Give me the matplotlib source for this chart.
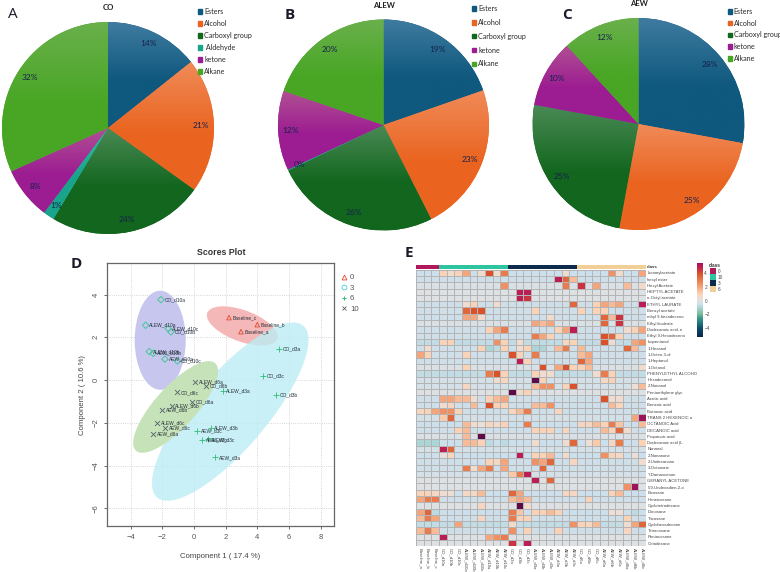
import numpy as np
import matplotlib
matplotlib.use("Agg")
import matplotlib.pyplot as plt
from matplotlib.colors import LinearSegmentedColormap, ListedColormap, Normalize
from matplotlib.patches import Ellipse, Patch

W, H = 780, 572
plt.rcParams['font.family'] = ['Liberation Sans', 'DejaVu Sans']

# pies
PIE_CO_NAMES = ['Esters', 'Alcohol', 'Carboxyl group', ' Aldehyde', 'ketone', 'Alkane']
PIE_CO_VALUES = [14.3, 20.6, 23.7, 1.7, 8.0, 31.7]
PIE_CO_LABELS = ['14%', '21%', '24%', '1%', '8%', '32%']
PIE_CO_KEYS = ['esters', 'alcohol', 'carboxyl', 'aldehyde', 'ketone', 'alkane']

PIE_ALEW_NAMES = ['Esters', 'Alcohol', 'Carboxyl group', 'ketone', 'Alkane']
PIE_ALEW_VALUES = [19.7, 22.9, 25.4, 0.15, 12.2, 19.8]
PIE_ALEW_LABELS = ['19%', '23%', '26%', '0%', '12%', '20%']
PIE_ALEW_KEYS = PIE_CO_KEYS

PIE_AEW_NAMES = ['Esters', 'Alcohol', 'Carboxyl group', 'ketone', 'Alkane']
PIE_AEW_VALUES = [27.9, 25.0, 25.0, 10.3, 11.8]
PIE_AEW_LABELS = ['28%', '25%', '25%', '10%', '12%']
PIE_AEW_KEYS = ['esters', 'alcohol', 'carboxyl', 'ketone', 'alkane']

# scores plot
BASE_X = [2.21, 4.0, 2.97]
BASE_Y = [2.92, 2.59, 2.26]
BASE_NAMES = ['Baseline_c', 'Baseline_b', 'Baseline_a']
D10_X = [-2.08, -3.05, -1.62, -1.45, -2.82, -2.57, -1.83, -1.05]
D10_Y = [3.76, 2.56, 2.40, 2.25, 1.33, 1.25, 0.98, 0.89]
D10_NAMES = ['CO_d10a', 'ALEW_d10a', 'ALEW_d10c', 'CO_d10b', 'ALEW_d10b', 'AEW_d10b', 'AEW_d10a', 'CO_d10c']
D3_X = [5.35, 4.38, 5.16, 1.81, 1.05, 0.21, 0.86, 0.5, 1.35]
D3_Y = [1.45, 0.2, -0.7, -0.51, -2.26, -2.39, -2.78, -2.82, -3.62]
D3_NAMES = ['CO_d3a', 'CO_d3c', 'CO_d3b', 'ALEW_d3a', 'ALEW_d3b', 'AEW_d3c', 'ALEW_d3c', 'AEW_d3b', 'AEW_d3a']
D6_X = [0.06, 0.74, -1.05, -0.1, -1.41, -2.0, -2.32, -1.81, -2.59]
D6_Y = [-0.09, -0.27, -0.58, -1.01, -1.2, -1.39, -2.01, -2.23, -2.53]
D6_NAMES = ['ALEW_d6a', 'CO_d6b', 'CO_d6c', 'CO_d6a', 'ALEW_d6b', 'AEW_d6b', 'ALEW_d6c', 'AEW_d6c', 'AEW_d6a']

# heatmap
ROW_NAMES = ['Isoamylacetate', 'hexyl ester', 'Hexyl Acetate', 'HEPTYL ACETATE', 'n-Octyl acetate',
             'ETHYL LAURATE', 'Benzyl acetate', 'ethyl 9-hexadeceno', 'Ethyl linoleate', 'Dodecanoic acid, e',
             'Ethyl 9-Hexadeceno', 'Isopentanol', '1-Hexanol', '1-Octen-3-ol', '1-Heptanol', '1-Octanol',
             'PHENYLETHYL ALCOHO', 'Hexadecanol', '2-Nonanol', 'Pentaethylene glyc', 'Acetic acid',
             'Benzoic acid', 'Butanoic acid', 'TRANS 2 HEXENOIC a', 'OCTANOIC Acid', 'DECANOIC acid',
             'Propanoic acid', 'Dodecanoic acid (L', 'Nonanal', '2-Nonanone', '2-Undecanone', '3-Octanone',
             '?-Damascenon', 'GERANYL ACETONE', '5,9-Undecadien-2-o', 'Eicosane', 'Heneicosane',
             'Cyclotetradecane', 'Docosane', 'Tricosane', 'Cyclohexadecane', 'Tetracosane', 'Pentacosane',
             'Octadecane']
COL_NAMES = ['Baseline_a', 'Baseline_b', 'Baseline_c',
             'CO_d10a', 'CO_d10b', 'CO_d10c', 'ALEW_d10a', 'ALEW_d10b', 'ALEW_d10c',
             'AEW_d10a', 'AEW_d10b', 'AEW_d10c',
             'CO_d3a', 'CO_d3b', 'CO_d3c', 'ALEW_d3a', 'ALEW_d3b', 'ALEW_d3c',
             'AEW_d3a', 'AEW_d3b', 'AEW_d3c',
             'CO_d6a', 'CO_d6b', 'CO_d6c', 'AEW_d6a', 'AEW_d6b', 'AEW_d6c',
             'ALEW_d6a', 'ALEW_d6b', 'ALEW_d6c']
COL_CLASS = [0] * 3 + [1] * 9 + [2] * 9 + [3] * 9
CLASS_NAMES = ['0', '10', '3', '6']

# background level of each row, then the cells that stand out
ROW_BASE = [-.6, -.5, -.3, -.2, -.2, -.5, -.5, -.5, -.3, -.5, -.5, -.7, -.5, -.5, -.5, -.3, -.7, -.4, -.4, -.2, -.5, -.5,
            -.5, -.4, -.6, -.5, -.3, -.6, -.4, -.6, -.5, -.5, -.4, -.2, -.2, -.6, -.5, -.2, -.6, -.5, -.7, -.5, -.2, -.2]
HOT_CELLS = {
    0: {3: 1, 4: .5, 5: 1, 6: 2, 8: .5, 9: 4, 10: .5, 11: 3, 19: .5, 25: 2.5, 26: .5, 29: 2},
    1: {18: 5, 19: 3.5, 20: 1.5},
    2: {11: 2.5, 19: 3, 21: 4.5, 23: 2, 27: 1.5, 29: .5},
    3: {13: 5, 14: 5},
    4: {13: 5, 14: 4.5},
    5: {6: .5, 7: 1, 10: .5, 20: 3.5, 23: 1, 24: 2, 25: 1.5, 26: 2, 29: 5},
    6: {6: 3.5, 7: 4, 8: 4, 15: 1, 21: 1, 23: 1, 24: 1},
    7: {6: 2, 7: 2, 8: .5, 17: .5, 24: 3.5, 25: 1.5, 26: 4.5},
    8: {15: 2, 16: 1.5, 17: 2, 24: 3.5, 26: 4.5},
    9: {9: 1, 10: 2, 11: 3, 18: 1, 19: 2, 20: 5, 27: .5, 28: 1, 29: 2},
    10: {15: 3, 16: 2, 17: 1, 24: 4, 25: 3.5, 26: 1},
    11: {3: 1, 4: 1, 10: 2.5, 11: 1, 13: .5, 19: .7, 20: 1, 24: 4, 25: .5, 28: 2, 29: 2.5},
    12: {1: .5, 8: 1, 9: -1, 10: -.8, 11: 1, 13: .5, 14: 1, 15: -1, 16: -1, 18: 1.5, 19: 3, 21: 1.5, 27: 3.5, 28: 1.5},
    13: {0: 2, 1: 1, 6: 1, 12: 4, 13: 1, 15: 3, 21: 1.5, 22: 2},
    14: {13: 5, 14: 1, 21: 3.5, 22: 2},
    15: {6: 1, 16: 4, 18: 2, 19: 4, 20: 1, 21: 1, 22: 1.5, 29: .5},
    16: {9: 3, 10: 4, 11: 1, 15: 1, 16: .5, 17: .5, 23: .5, 24: 3, 25: 1},
    17: {10: .5, 11: .8, 15: 6, 16: 1, 24: .7, 25: 1},
    18: {6: .8, 15: 1.5, 16: 2.5, 17: 2.5, 19: 1, 20: 4, 28: .3, 29: 1.5},
    19: {12: 6, 13: .5, 14: 1},
    20: {3: 2, 4: 2, 5: 1.5, 6: 1.5, 7: .5, 9: 1, 10: 1.5, 11: 2, 24: 4, 25: .5, 26: .5},
    21: {3: .5, 4: .8, 7: 1.5, 9: 4, 10: 1, 11: 1, 15: 1.5, 16: 1.5, 17: 2.5, 25: 1.5, 26: .8},
    22: {0: .8, 1: 1, 2: 2, 3: 2.5, 4: 2.5, 5: 1, 12: .8, 13: 1.5, 14: 3, 18: .8},
    23: {3: 1.2, 4: 3.5, 28: 2, 29: 5.5},
    24: {6: 1.5, 7: .5, 8: .3, 9: .8, 10: .5, 11: 1, 14: 3, 21: .8, 22: .8, 23: 1.5, 24: 1, 25: 3, 26: 1.3, 29: 1.5},
    25: {5: 1, 6: 1.5, 15: 1, 16: 1, 17: 1, 19: .8, 24: 1.5, 25: 1, 26: 3.5, 27: .5},
    26: {6: 1.5, 8: 6},
    27: {0: -1, 1: -1, 2: -1, 6: 1.5, 7: 1.5, 8: 1, 9: -.8, 11: -.8, 15: .5, 19: .5, 20: 3.5, 22: .3, 23: 1.2, 25: .7, 26: 3, 29: 1},
    28: {3: 5, 4: 3.5},
    29: {3: .2, 4: .8, 13: 5, 15: 1, 16: 1, 17: 1.5, 19: .5, 24: 2.5, 25: 1, 26: .7, 28: .2},
    30: {9: 1, 10: .7, 11: 2, 15: 2.5, 16: 2, 17: 3.5, 20: .8, 29: .5},
    31: {6: 3, 7: .5, 8: 2, 9: 3, 11: 2, 16: 3.5},
    32: {12: 1.2, 13: 3, 14: 5},
    33: {15: 5, 17: 3.5},
    34: {27: 2.5, 28: 5.5},
    35: {0: 1, 1: 1, 2: .7, 3: .5, 4: .4, 6: .7, 7: .7, 8: 1.5, 12: 3.5, 13: 2, 19: .8, 20: .8, 25: 1, 26: 1.5},
    36: {0: 2, 1: 3, 2: 3, 12: 1.5, 13: 2, 14: 1.5, 22: 1},
    37: {8: .8, 13: 6, 14: .5},
    38: {0: 2, 1: 3.5, 2: -.8, 12: 3, 13: 1.3, 15: 1, 16: 1, 17: 1.5, 18: 1, 25: .3, 26: .3, 28: -.8},
    39: {0: 1.5, 1: 3, 2: 2, 8: .8, 12: 3, 13: 1, 14: 1, 27: 1},
    40: {5: 2, 12: .6, 20: 2.5, 21: 1, 22: .8, 23: 1.5, 27: .5, 28: 2, 29: 3.5},
    41: {0: 1.5, 1: 3, 2: 1.5, 12: 2.5, 14: 1, 18: 1, 27: .8},
    42: {3: 5, 9: 2, 10: 2.5, 11: 3},
    43: {12: 4.5, 14: 5},
}

PIE_TOP = {'esters': '#3f7ba0', 'alcohol': '#f08a58', 'carboxyl': '#4a8a55', 'aldehyde': '#2fbaa2',
           'ketone': '#b04f92', 'alkane': '#6ab04c'}
PIE_BOTTOM = {'esters': '#0f587e', 'alcohol': '#ea6420', 'carboxyl': '#12661e', 'aldehyde': '#19a48c',
              'ketone': '#9c1c92', 'alkane': '#48a624'}


def px_axes(left, top, right, bottom):
    return fig.add_axes([left / W, 1 - bottom / H, (right - left) / W, (bottom - top) / H])


def draw_pie(cx, cy, r, values, labels, keys, names, title, title_y, leg_x, leg_y, leg_gap):
    ax = px_axes(cx - r, cy - r, cx + r, cy + r)
    wedges, _ = ax.pie(values, startangle=90, counterclock=False, radius=1)
    for w, key, lab in zip(wedges, keys, labels):
        w.set_facecolor(PIE_BOTTOM[key])
        w.set_edgecolor('none')
        cmap = LinearSegmentedColormap.from_list(key, [PIE_TOP[key], PIE_BOTTOM[key]])
        box = w.get_path().get_extents()
        # the light part of the gradient only reaches part way down a slice
        shade = np.clip(np.linspace(0, 1, 64) * 1.8, 0, 1).reshape(-1, 1)
        img = ax.imshow(shade, cmap=cmap, vmin=0, vmax=1, aspect='auto', origin='upper',
                        extent=[box.x0, box.x1, box.y0, box.y1], zorder=1)
        img.set_clip_path(w)
        mid = np.deg2rad((w.theta1 + w.theta2) / 2)
        ax.text(0.88 * np.cos(mid), 0.88 * np.sin(mid), lab, ha='center', va='center', fontsize=6,
                color='#16224c', family=['Lato', 'DejaVu Sans'], zorder=3)
    ax.set_xlim(-1, 1)
    ax.set_ylim(-1, 1)
    ax.set_aspect('equal')
    ax.axis('off')
    fig.text(cx / W, 1 - title_y / H, title, ha='center', va='center', fontsize=5.6, color='#222222',
             family=['Lato', 'DejaVu Sans'], weight='bold')
    name_keys = [k for k in keys if k != 'aldehyde' or ' Aldehyde' in names]
    handles = [Patch(color=PIE_BOTTOM[k]) for k in name_keys]
    fig.legend(handles, names, loc='upper left', bbox_to_anchor=(leg_x / W, 1 - leg_y / H), frameon=False,
               handlelength=0.6, handleheight=0.6, handletextpad=0.25, borderpad=0, borderaxespad=0,
               labelspacing=leg_gap, prop={'family': ['Lato', 'DejaVu Sans'], 'size': 5.1},
               labelcolor='#2a2a2a')


fig = plt.figure(figsize=(W / 100, H / 100), dpi=100, facecolor='white')

draw_pie(108, 128, 106, PIE_CO_VALUES, PIE_CO_LABELS, PIE_CO_KEYS, PIE_CO_NAMES, 'CO', 8, 198, 8, 0.7)
draw_pie(383.5, 125, 105.5, PIE_ALEW_VALUES, PIE_ALEW_LABELS, PIE_ALEW_KEYS, PIE_ALEW_NAMES, 'ALEW', 5, 472, 5, 0.97)
draw_pie(638.5, 124, 106, PIE_AEW_VALUES, PIE_AEW_LABELS, PIE_AEW_KEYS, PIE_AEW_NAMES, 'AEW', 4, 727.5, 8, 0.67)

for letter, x, y, wt, size in [('A', 13, 15, 'normal', 11), ('B', 290, 15, 'bold', 11), ('C', 567, 15, 'bold', 11),
                               ('D', 76, 264, 'bold', 11), ('E', 409, 253, 'bold', 11)]:
    fig.text(x / W, 1 - y / H, letter, ha='center', va='center', fontsize=size, weight=wt, color='#1a1a2a',
             family=['Open Sans', 'DejaVu Sans'])

# scores plot
ax = px_axes(107.3, 263.3, 334.3, 526)
ax.set_xlim(-5.47, 8.86)
ax.set_ylim(-6.83, 5.46)
ax.add_patch(Ellipse((3.05, 2.53), 4.6, 1.5, angle=-14, fc='#f4b4b4', ec='none', alpha=0.95, zorder=1))
ax.add_patch(Ellipse((2.29, -1.48), 12.3, 4.0, angle=39, fc='#bcedf4', ec='none', alpha=0.8, zorder=2))
ax.add_patch(Ellipse((-2.13, 1.86), 3.22, 4.63, fc='#c6c6ee', ec='none', zorder=2))
ax.add_patch(Ellipse((-1.16, -1.26), 6.5, 2.2, angle=37, fc='#c6e2b8', ec='none', zorder=3))
ax.grid(True, color='#c8c8c8', linestyle=':', linewidth=0.6)
ax.set_axisbelow(True)

GROUPS = [(BASE_X, BASE_Y, BASE_NAMES, '^', '#e2492f'), (D10_X, D10_Y, D10_NAMES, 'D', '#35c78e'),
          (D3_X, D3_Y, D3_NAMES, '+', '#2dbf78'), (D6_X, D6_Y, D6_NAMES, 'x', '#55606a')]
for gx, gy, names, marker, color in GROUPS:
    filled = marker in '^D'
    ax.scatter(gx, gy, s=11 if filled else 13, marker=marker, linewidths=0.6, zorder=5,
               facecolors='none' if filled else color, edgecolors=color if filled else None)
    for px, py, name in zip(gx, gy, names):
        ax.annotate(name, (px, py), xytext=(2.7, 0), textcoords='offset points', fontsize=3.5, va='center',
                    color='#25303a', zorder=6)

ax.set_xticks([-4, -2, 0, 2, 4, 6, 8])
ax.set_yticks([-6, -4, -2, 0, 2, 4])
ax.tick_params(labelsize=5.5, colors='#555555', length=2.5, width=0.6, pad=3)
for t in ax.get_yticklabels():
    t.set_rotation(90)
    t.set_va('center')
for s in ax.spines.values():
    s.set_color('#666666')
    s.set_linewidth(0.9)
fig.text(221 / W, 1 - 252 / H, 'Scores Plot', ha='center', va='center', fontsize=6.3, weight='bold', color='#333333')
fig.text(220.5 / W, 1 - 556 / H, 'Component 1 ( 17.4 %)', ha='center', va='center', fontsize=5.6, color='#444444')
fig.text(83 / W, 1 - 395 / H, 'Component 2 ( 10.6 %)', ha='center', va='center', rotation=90, fontsize=5.6,
         color='#444444')

leg_handles = [plt.Line2D([], [], ls='', marker='^', mfc='none', mec='#e2492f', ms=3.5, mew=0.6),
               plt.Line2D([], [], ls='', marker='o', mfc='none', mec='#45d0d8', ms=3.5, mew=0.6),
               plt.Line2D([], [], ls='', marker='+', color='#2dbf78', ms=3.5, mew=0.7),
               plt.Line2D([], [], ls='', marker='x', color='#55606a', ms=3.2, mew=0.6)]
fig.legend(leg_handles, CLASS_NAMES[:1] + ['3', '6', '10'], loc='upper left', bbox_to_anchor=(340 / W, 1 - 274 / H),
           frameon=False, fontsize=5.6, labelspacing=0.38, handlelength=1, handletextpad=0.3, borderpad=0,
           borderaxespad=0, labelcolor='#555555')

# heatmap
heat = np.tile(np.array(ROW_BASE).reshape(-1, 1), (1, len(COL_NAMES)))
for row, cells in HOT_CELLS.items():
    for col, val in cells.items():
        heat[row, col] = val

VMIN, VMAX = -5.4, 5.55
stops = [(-5.4, '#0a2545'), (-4, '#10506e'), (-2.6, '#3b9a8c'), (-2, '#79bd9a'), (-1, '#acd6d8'), (-.6, '#cbdfec'),
         (-.2, '#dde1e4'), (.3, '#ecdfd6'), (1, '#fad2b6'), (2, '#f5a67c'), (3, '#e97c4e'), (4, '#d9522c'),
         (4.8, '#c4234f'), (5.5, '#a8145e'), (5.55, '#5c0a48')]
stops = [((v - VMIN) / (VMAX - VMIN), c) for v, c in stops]
heat_cmap = LinearSegmentedColormap.from_list('heat', stops)
heat_cmap.set_over('#5c0a48')
norm = Normalize(VMIN, VMAX)

ax = px_axes(416, 269.7, 646, 546.3)
mesh = ax.pcolormesh(heat, cmap=heat_cmap, norm=norm, edgecolors='#b4b4b4', linewidth=0.6)
ax.set_ylim(len(ROW_NAMES), 0)
ax.set_yticks(np.arange(len(ROW_NAMES)) + 0.5, ROW_NAMES)
ax.yaxis.tick_right()
ax.set_xticks(np.arange(len(COL_NAMES)) + 0.5, COL_NAMES, rotation=270)
ax.tick_params(length=0, pad=1, labelsize=3.1, labelcolor='#444444')
for s in ax.spines.values():
    s.set_visible(False)

class_colors = ['#b01a5a', '#2fc4a0', '#0d2b4a', '#f2cf96']
ax = px_axes(416, 264.7, 646, 268.7)
ax.pcolormesh(np.array(COL_CLASS).reshape(1, -1), cmap=ListedColormap(class_colors), vmin=-.5, vmax=3.5)
ax.axis('off')
fig.text(647 / W, 1 - 266.7 / H, 'class', fontsize=3.2, weight='bold', va='center', color='#333333')

cax = px_axes(697, 263, 703, 337)
cb = fig.colorbar(mesh, cax=cax, ticks=[-4, -2, 0, 2, 4])
cb.ax.tick_params(length=0, pad=1, labelsize=3.4, labelcolor='#444444')
cb.outline.set_visible(False)

ax = px_axes(710, 268.3, 716, 292)
ax.pcolormesh(np.arange(4).reshape(-1, 1), cmap=ListedColormap(class_colors), vmin=-.5, vmax=3.5)
ax.set_ylim(4, 0)
ax.set_xticks([])
ax.set_yticks(np.arange(4) + 0.5, CLASS_NAMES)
ax.yaxis.tick_right()
ax.tick_params(length=0, pad=1, labelsize=3.4, labelcolor='#444444')
for s in ax.spines.values():
    s.set_visible(False)
fig.text(709 / W, 1 - 265.5 / H, 'class', fontsize=3.4, weight='bold', va='center', color='#333333')

fig.savefig('out.png', dpi=100)
